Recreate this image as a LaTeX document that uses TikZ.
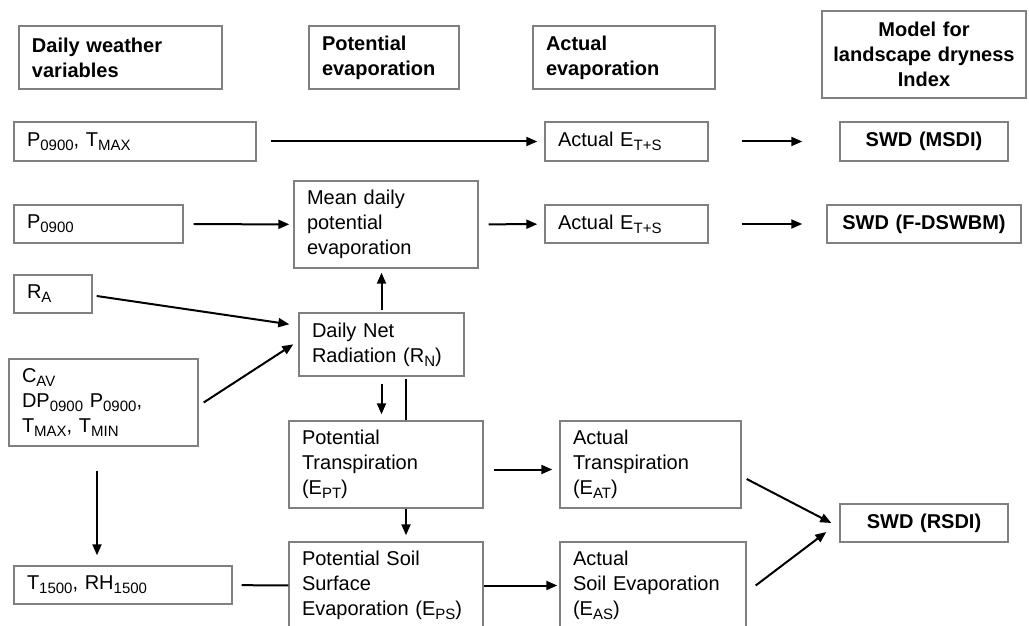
\documentclass[tikz,border=0pt]{standalone}
\usepackage{fontspec}
\setmainfont{Liberation Sans}
\usetikzlibrary{arrows.meta}
\newcommand{\sbs}[1]{\raisebox{-0.4ex}{\fontsize{7.5}{8}\selectfont #1}}

\begin{document}
\begin{tikzpicture}[
		x=0.5pt, y=-0.5pt,
		box/.style={draw=black!50, line width=0.7pt, align=left, inner xsep=6.5pt, inner ysep=0pt, font=\fontsize{10}{12.5}\selectfont},
		head/.style={box, font=\bfseries\fontsize{10}{12.5}\selectfont},
		swd/.style={head, align=center, inner xsep=3pt},
		arr/.style={-{Triangle[length=5.5pt,width=4.5pt]}, line width=1pt},
		plain/.style={line width=1pt},
	]
	\useasboundingbox (0,0) rectangle (1029,626);

	% column headings
	\node[head, text width=88.5pt, minimum height=31.5pt] (hdaily) at (120.5,57.5) {Daily weather\\variables};
	\node[head, text width=62pt, minimum height=31.5pt]   (hpot)   at (384,57.5)   {Potential\\evaporation};
	\node[head, text width=78pt, minimum height=31.5pt]   (hact)   at (624,57.5)   {Actual\\evaporation};
	\node[swd, text width=96pt, minimum height=43.5pt]    (hmodel) at (924,54.5)   {Model for\\landscape dryness\\Index};

	% weather variables
	\node[box, text width=108pt, minimum height=19.5pt] (pt)  at (135,141.5)  {P\sbs{0900}, T\sbs{MAX}};
	\node[box, text width=71.5pt, minimum height=19pt]  (p)   at (98.5,224)   {P\sbs{0900}};
	\node[box, text width=26pt, minimum height=19pt]    (ra)  at (53,294)     {R\sbs{A}};
	\node[box, text width=81.5pt, minimum height=43.5pt] (cav) at (103.5,402.5) {C\sbs{AV}\\DP\sbs{0900} P\sbs{0900},\\T\sbs{MAX}, T\sbs{MIN}};
	\node[box, text width=96pt, minimum height=19pt]    (t15) at (123,585)    {T\sbs{1500}, RH\sbs{1500}};

	% potential evaporation
	\node[box, text width=79pt, minimum height=43.5pt]   (mean) at (386,224.5)   {Mean daily\\potential\\evaporation};
	\node[box, text width=69.5pt, minimum height=31.5pt] (rn)   at (381.5,344.5) {Daily Net\\Radiation (R\sbs{N})};
	\node[box, text width=84pt, minimum height=43.5pt]   (ept)  at (386,464.5)   {Potential\\Transpiration\\(E\sbs{PT})};
	\node[box, text width=84pt, minimum height=43.5pt]   (eps)  at (386,585.5)   {Potential Soil\\Surface\\Evaporation (E\sbs{PS})};

	% actual evaporation
	\node[box, text width=68.5pt, minimum height=19.5pt] (aet1) at (626.5,141.5) {Actual E\sbs{T+S}};
	\node[box, text width=68.5pt, minimum height=19pt]   (aet2) at (626.5,224)   {Actual E\sbs{T+S}};
	\node[box, text width=77.5pt, minimum height=43.5pt] (eat)  at (650.5,464.5) {Actual\\Transpiration\\(E\sbs{AT})};
	\node[box, text width=80pt, minimum height=43.5pt]   (eas)  at (653,585.5)   {Actual\\Soil Evaporation\\(E\sbs{AS})};

	% dryness index
	\node[swd, text width=78pt, minimum height=19.5pt] (msdi)   at (924,141.5) {SWD (MSDI)};
	\node[swd, text width=91pt, minimum height=19pt]   (fdswbm) at (924,224)   {SWD (F-DSWBM)};
	\node[swd, text width=78pt, minimum height=19pt]   (rsdi)   at (924,523)   {SWD (RSDI)};

	\draw[arr, shorten <=7pt, shorten >=3.5pt]  (pt) -- (aet1);
	\draw[arr, shorten <=16.5pt, shorten >=18.5pt] (aet1) -- (msdi);
	\draw[arr, shorten <=5pt, shorten >=2pt]    (p) -- (mean);
	\draw[arr, shorten <=5pt, shorten >=3.5pt]  (mean) -- (aet2);
	\draw[arr, shorten <=16.5pt, shorten >=12pt] (aet2) -- (fdswbm);
	\draw[arr] ([shift={(4,2)}]ra.east) -- ([shift={(-9,12)}]rn.north west);
	\draw[arr] ([shift={(5,0)}]cav.east) -- ([shift={(-5,32)}]rn.north west);
	\draw[arr, shorten <=1pt, shorten >=2pt] (rn.north) -- (rn.north |- mean.south);
	\draw[arr, shorten <=3.5pt, shorten >=3pt] (rn.south) -- (rn.south |- ept.north);
	\draw[plain, shorten <=1pt] ([xshift=12.25pt]rn.south) -- ([xshift=12.25pt]rn.south |- ept.north);
	\draw[arr, shorten >=3pt] ([xshift=10pt]ept.south) -- ([xshift=10pt]ept.south |- eps.north);
	\draw[arr, shorten <=5pt, shorten >=3.5pt] ([yshift=-2.5pt]ept.east) -- ([yshift=-2.5pt]eat.west);
	\draw[arr, shorten >=1pt] (eps) -- (eas);
	\draw[arr, shorten <=12pt, shorten >=5pt] ([xshift=-3.25pt]cav.south) -- ([xshift=-3.25pt]cav.south |- t15.north);
	\draw[plain, shorten <=4.5pt] (t15) -- (eps);
	\draw[arr] ([shift={(5,14.5)}]eat.east) -- ([shift={(-8,0)}]rsdi.west);
	\draw[arr] ([shift={(9,0)}]eas.east) -- ([shift={(-13,9)}]rsdi.west);
\end{tikzpicture}
\end{document}
